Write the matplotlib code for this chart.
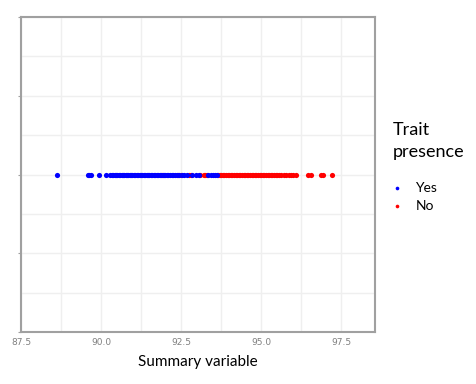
import numpy as np
import matplotlib
matplotlib.use("Agg")
import matplotlib.pyplot as plt
from matplotlib.ticker import MultipleLocator

# values (all points sit on y = 0)
yes_x = [88.63, 89.59, 89.63, 89.69, 89.95, 90.14, 90.27, 90.33, 90.38, 90.42,
         90.47, 90.51, 90.55, 90.60, 90.64, 90.68, 90.72, 90.77, 90.81, 90.85,
         90.90, 90.94, 90.98, 91.03, 91.07, 91.12, 91.16, 91.20, 91.25, 91.29,
         91.34, 91.38, 91.43, 91.47, 91.51, 91.56, 91.60, 91.65, 91.69, 91.74,
         91.78, 91.83, 91.87, 91.92, 91.96, 92.01, 92.05, 92.10, 92.15, 92.20,
         92.26, 92.31, 92.37, 92.44, 92.52, 92.60, 92.68, 92.85, 92.95, 93.05,
         93.35, 93.42, 93.50, 93.57, 93.63]
no_x = [91.90, 92.40, 92.48, 92.75, 92.80, 93.10, 93.20, 93.25, 93.30, 93.65,
        93.70, 93.75, 93.80, 93.85, 93.90, 93.95, 94.00, 94.05, 94.10, 94.15,
        94.20, 94.25, 94.30, 94.35, 94.40, 94.45, 94.50, 94.55, 94.60, 94.65,
        94.70, 94.75, 94.80, 94.85, 94.90, 94.95, 95.00, 95.05, 95.10, 95.15,
        95.20, 95.25, 95.30, 95.35, 95.40, 95.45, 95.50, 95.56, 95.62, 95.70,
        95.78, 95.85, 95.93, 96.00, 96.08, 96.47, 96.55, 96.85, 96.92, 97.20]
labels = ["Yes", "No"]

fig = plt.figure(figsize=(4.76, 3.84), dpi=100)
ax = fig.add_axes([21/476, 1 - 332/384, 354/476, 315/384])

# blue drawn on top of red like in the reference
ax.scatter(no_x, np.zeros(len(no_x)), s=14, color="#FF0000", label=labels[1], zorder=3, linewidths=0)
ax.scatter(yes_x, np.zeros(len(yes_x)), s=14, color="#0000FF", label=labels[0], zorder=3, linewidths=0)

ax.set_xlim(87.5, 98.55)
ax.set_ylim(-1, 1)
ax.xaxis.set_major_locator(MultipleLocator(2.5))
ax.xaxis.set_minor_locator(MultipleLocator(1.25))
ax.yaxis.set_major_locator(MultipleLocator(0.5))
ax.yaxis.set_minor_locator(MultipleLocator(0.25))
ax.grid(True, which="both", color="#EFEFEF", linewidth=1, zorder=0)
ax.set_axisbelow(True)

for sp in ax.spines.values():
    sp.set_color("#A0A0A0")
    sp.set_linewidth(1.5)

ax.tick_params(axis="x", which="both", length=0, labelsize=6.5, labelcolor="#808080", pad=4)
ax.tick_params(axis="y", which="major", length=2, color="#A0A0A0", labelleft=False)
ax.tick_params(axis="y", which="minor", length=0)
ax.set_xticklabels([f"{v:.1f}" for v in ax.get_xticks()])

ax.set_xlabel("Summary variable", family="Lato", fontsize=11, labelpad=6)

# legend title drawn separately to get the wide line spacing of the reference
fig.text(393/476, 1 - 122/384, "Trait\npresence", va="top", ha="left",
         family="Lato", fontsize=13, linespacing=1.45)
handles, _ = ax.get_legend_handles_labels()
ax.legend(handles[::-1], labels, loc="upper left", bbox_to_anchor=(371/476, 1 - 169/384),
          bbox_transform=fig.transFigure, frameon=False,
          prop={"family": "Lato", "size": 10}, markerscale=0.7,
          handletextpad=0.3, labelspacing=0.45)

fig.savefig("out.png", dpi=100)
